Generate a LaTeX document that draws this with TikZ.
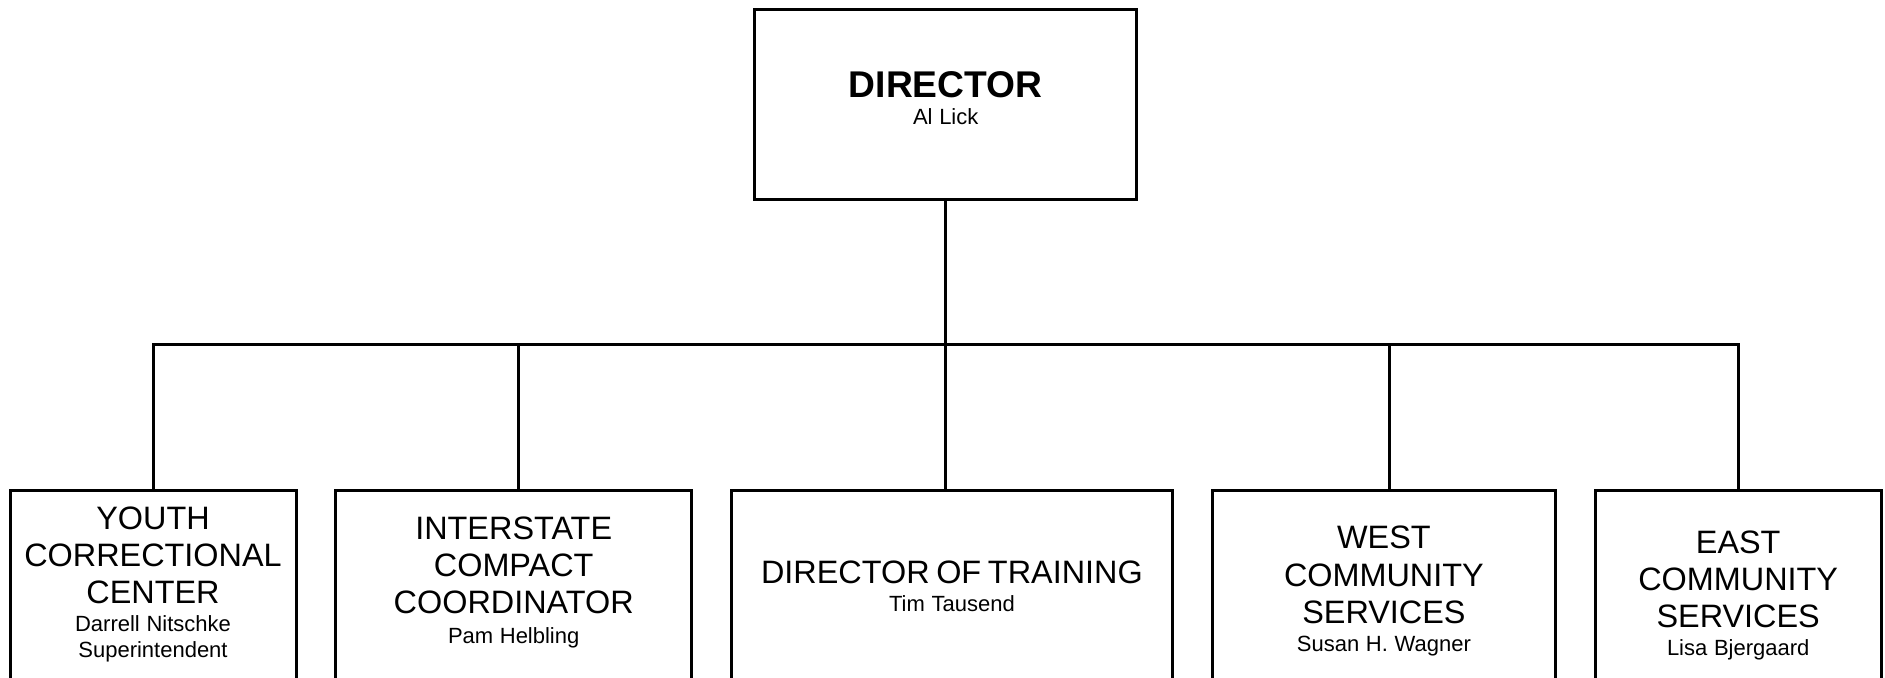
\documentclass[tikz,border=0pt]{standalone}
\usepackage{fontspec}
\setmainfont{Liberation Sans}
\usetikzlibrary{positioning,calc}

\newcommand{\unitname}{\fontsize{16.2}{18.6}\selectfont}
\newcommand{\person}{\fontsize{11}{12.75}\selectfont}
% extra space under the text of a box, lifts the text a little
\newcommand{\lift}[1]{\par\vspace{#1}\hrule height 0pt}

\begin{document}
\begin{tikzpicture}[x=0.5pt,y=-0.5pt]
\tikzstyle{chief}=[rectangle, draw=black, line width=1.5pt, outer sep=0pt, inner sep=0pt, minimum width=191pt, minimum height=94.85pt, align=center, text width=180pt]
\tikzstyle{office}=[rectangle, draw=black, line width=1.5pt, outer sep=0pt, inner sep=0pt, minimum height=96pt, align=center, anchor=north]
\tikzstyle{link}=[line width=1.5pt]
  \useasboundingbox (0,0) rectangle (1885,677);
  \clip (0,0) rectangle (1885,677);
  \node[chief] (dir) at (945.7,104.2)
    {{\fontsize{18.6}{20}\selectfont\bfseries DIRECTOR\par}\vspace{0.5pt}\person Al Lick\lift{6pt}};
  \node[office, minimum width=143pt, text width=138pt] (ycc) at (153,490)
    {{\unitname YOUTH\\ CORRECTIONAL\\ CENTER\par}\vspace{1.5pt}\person Darrell Nitschke\\ Superintendent\lift{1.8pt}};
  \node[office, minimum width=178pt, text width=170pt] (icc) [right=19.85pt of ycc.north east, anchor=north west]
    {{\unitname INTERSTATE\\ COMPACT\\ COORDINATOR\par}\vspace{2pt}\person Pam Helbling\lift{3.6pt}};
  \node[office, minimum width=220.5pt, minimum height=96.2pt, text width=212pt] (trn) [right=19.85pt of icc.north east, anchor=north west]
    {{\unitname DIRECTOR OF TRAINING\par}\vspace{2pt}\person Tim Tausend};
  \node[office, minimum width=171.8pt, minimum height=101pt, text width=164pt] (wcs) [right=19.85pt of trn.north east, anchor=north west]
    {{\unitname WEST\\ COMMUNITY\\ SERVICES\par}\vspace{2pt}\person Susan H. Wagner};
  \node[office, minimum width=142.8pt, minimum height=105.2pt, text width=138pt] (ecs) [right=19.85pt of wcs.north east, anchor=north west]
    {{\unitname EAST\\ COMMUNITY\\ SERVICES\par}\vspace{2pt}\person Lisa Bjergaard};
  % bus line halfway between the director and the units
  \coordinate (bus) at ($(dir.south)!.5!(dir.south |- trn.north)$);
  \draw[link] (dir.south) -- (dir.south |- trn.north);
  \draw[link] (ycc.north) |- (bus) -| (ecs.north);
  \foreach \n/\s in {icc/2.5pt, wcs/2.9pt}
    \draw[link] ([xshift=\s]\n.north) -- ([xshift=\s]\n.north |- bus);
\end{tikzpicture}
\end{document}
